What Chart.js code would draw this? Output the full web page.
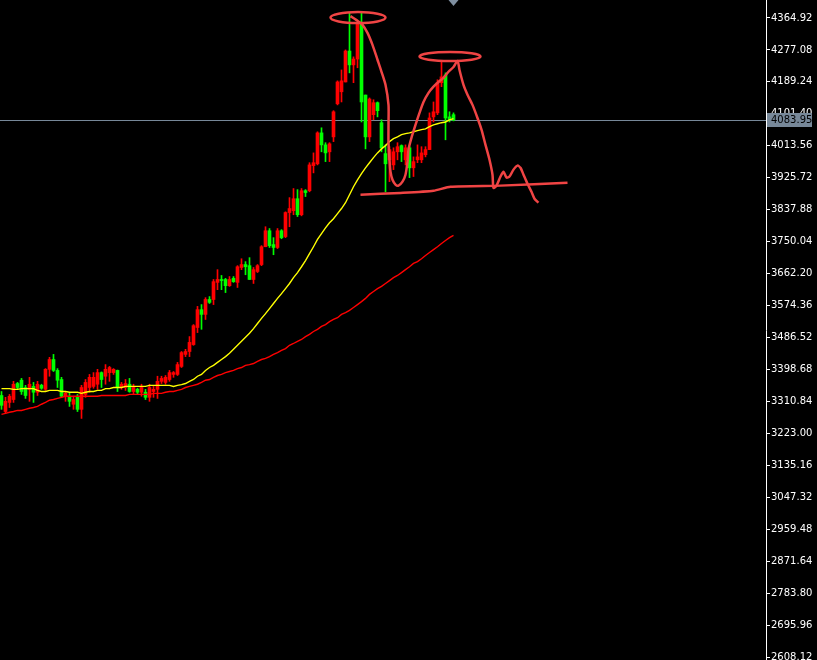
<!DOCTYPE html>
<html><head><meta charset="utf-8">
<script src="https://cdn.jsdelivr.net/npm/chart.js@4.4.1/dist/chart.umd.min.js"></script>
<style>html,body{margin:0;padding:0;background:#000;overflow:hidden}#wrap{position:relative;width:817px;height:660px}</style>
</head><body><div id="wrap"><canvas id="c"></canvas></div>
<script>
// ---- data ----
const opens = [3327,3283,3308,3316,3360,3369,3349,3344,3352,3336,
3355,3344,3399,3426,3396,3371,3325,3325,3303,3325,
3289,3330,3349,3352,3358,3390,3380,3390,3390,3396,
3349,3349,3358,3338,3344,3336,3336,3322,3338,3344,
3366,3363,3371,3385,3385,3407,3440,3448,3467,3514,
3563,3550,3591,3591,3638,3646,3646,3629,3649,3638,
3679,3687,3684,3646,3668,3687,3736,3780,3742,3734,
3780,3764,3830,3835,3868,3824,3890,3890,3959,3964,
4049,4016,3997,4038,4129,4162,4189,4274,4236,4252,
4348,4153,4038,4099,4132,4077,3992,3975,3961,3997,
4014,3975,4008,3953,3975,3975,3989,4003,4093,4104,
4187,4208,4093,4099];
const highs = [3338,3322,3330,3366,3363,3374,3355,3377,3363,3366,
3358,3401,3432,3440,3401,3377,3338,3336,3325,3330,
3355,3371,3385,3390,3399,3392,3412,3407,3401,3397,
3363,3371,3374,3358,3347,3358,3344,3358,3352,3380,
3380,3382,3396,3393,3418,3448,3454,3489,3522,3572,
3577,3596,3599,3646,3673,3657,3649,3654,3654,3684,
3703,3695,3706,3679,3687,3739,3791,3786,3761,3786,
3783,3832,3871,3896,3893,3896,3893,3967,3994,4052,
4063,4022,4022,4110,4192,4222,4277,4379,4258,4354,
4379,4153,4145,4140,4134,4085,4016,4011,4008,4022,
4016,4016,4011,3983,4016,4011,4011,4104,4134,4195,
4244,4214,4107,4104];
const lows = [3289,3278,3294,3308,3344,3330,3319,3311,3308,3327,
3344,3341,3380,3393,3349,3322,3311,3297,3289,3283,
3264,3322,3336,3347,3344,3349,3358,3366,3385,3338,
3344,3341,3336,3330,3330,3325,3316,3311,3322,3319,
3360,3358,3366,3377,3382,3404,3434,3434,3465,3500,
3509,3536,3580,3577,3618,3618,3610,3627,3638,3624,
3673,3659,3646,3635,3665,3684,3736,3734,3714,3731,
3758,3761,3791,3824,3819,3821,3874,3887,3939,3961,
3997,3970,3970,4025,4126,4134,4189,4214,4187,4228,
4079,4005,4025,4085,4093,3997,3887,3915,3948,3975,
3970,3961,3926,3929,3967,3967,3983,4003,4079,4099,
4176,4030,4079,4082];
const closes = [3300,3311,3325,3358,3349,3338,3327,3358,3336,3358,
3347,3399,3426,3396,3369,3325,3333,3311,3316,3289,
3349,3363,3377,3377,3390,3371,3399,3404,3399,3349,
3358,3360,3338,3349,3336,3349,3322,3349,3344,3366,
3374,3377,3390,3390,3412,3445,3448,3473,3519,3563,
3550,3591,3583,3640,3646,3643,3629,3646,3640,3681,
3687,3681,3646,3673,3684,3736,3780,3739,3734,3780,
3761,3830,3841,3868,3824,3890,3885,3961,3967,4049,
4016,3994,4019,4107,4189,4192,4274,4236,4252,4348,
4134,4038,4142,4132,4110,4008,3964,4003,3997,4011,
3997,4008,3953,3970,3983,3994,4003,4090,4107,4187,
4203,4090,4085,4083.95];
const maFast = [3346,3346,3346,3344,3344,3346,3346,3346,3346,3341,
3338,3338,3341,3341,3341,3338,3338,3336,3336,3336,
3333,3336,3338,3338,3341,3341,3346,3346,3349,3349,
3349,3352,3352,3352,3352,3352,3352,3355,3355,3355,
3355,3355,3355,3352,3355,3357,3360,3366,3371,3380,
3385,3396,3404,3410,3418,3426,3434,3443,3454,3465,
3476,3487,3498,3511,3525,3539,3552,3566,3580,3594,
3607,3621,3635,3651,3665,3681,3698,3717,3736,3756,
3772,3788,3802,3813,3827,3841,3857,3879,3901,3920,
3937,3953,3967,3981,3994,4005,4014,4025,4033,4038,
4044,4047,4049,4052,4055,4058,4060,4066,4071,4074,
4077,4079,4085,4088];
const maSlow = [3275,3278,3281,3283,3286,3286,3289,3292,3294,3297,
3303,3308,3314,3316,3319,3322,3325,3325,3325,3325,
3325,3325,3325,3325,3325,3327,3327,3327,3327,3327,
3327,3327,3330,3330,3330,3330,3330,3330,3333,3333,
3333,3336,3338,3338,3341,3344,3349,3352,3355,3358,
3363,3369,3371,3377,3382,3385,3390,3393,3396,3401,
3404,3410,3412,3415,3421,3426,3429,3434,3440,3445,
3451,3456,3465,3470,3476,3481,3489,3495,3503,3509,
3517,3522,3530,3536,3541,3550,3555,3561,3569,3577,
3585,3594,3605,3613,3621,3627,3635,3643,3651,3657,
3665,3673,3681,3690,3695,3703,3712,3720,3728,3736,
3745,3753,3761,3767];
const yTicks = [4364.92,4277.08,4189.24,4101.40,4013.56,3925.72,3837.88,3750.04,3662.20,3574.36,
3486.52,3398.68,3310.84,3223.00,3135.16,3047.32,2959.48,2871.64,2783.80,2695.96,2608.12];
const yMin = 2599.9, yMax = 4414.3;
// hand-drawn annotations (bar index, price)
const sketchX = [87.25,88.75,90.25,91.5,92.75,94,95,96,96.75,96.75,96.75,97,97.25,97.75,98.5,99.25,100.25,101,101.5,101.75,102.5,103.5,104.5,105.5,106.75,108,109.25,110.5,111.75,113,114,114.5,115.5,116.5,117.75,119,120,121,122,122.75,123,123.75,124.75,125.5,126.25,127,128,129,129.75,130.5,131.5,132.5,133.25,134.25];
const sketchY = [4370,4359,4346,4324,4291,4250,4217,4181,4126,4071,4022,3975,3942,3920,3907,3904,3915,3934,3970,4003,4036,4071,4104,4134,4159,4176,4189,4200,4217,4230,4247,4222,4181,4154,4126,4090,4058,4016,3975,3934,3898,3904,3929,3942,3926,3929,3948,3959,3953,3934,3909,3887,3868,3857];
const neckX = [89.75,99.75,108,112.25,124.75,141.5];
const neckY = [3879,3884,3890,3901,3904,3912];
const ringCX = [89.125,112.125];
const ringCY = [4366,4259];
const ringRX = [6.875,7.625];
const ringRY = [15,12.4];

// ---- styles ----
const UP='#ff0000', DOWN='#00ff00', SKETCH='rgb(240,68,68)', PLINE='#778899';
const lastPrice = closes[closes.length-1];
const idx = opens.map((_,i)=>i);
const candleColors = idx.map(i => closes[i] >= opens[i] ? UP : DOWN);

const mtPlugin = {
  id:'mt',
  beforeDatasetsDraw(chart){
    const {ctx, chartArea:a, scales:{y}} = chart;
    const py = Math.round(y.getPixelForValue(lastPrice)) + 0.5;
    ctx.save(); ctx.strokeStyle=PLINE; ctx.lineWidth=1;
    ctx.beginPath(); ctx.moveTo(a.left,py); ctx.lineTo(a.right,py); ctx.stroke(); ctx.restore();
  },
  afterDatasetsDraw(chart){
    const {ctx, scales:{x,y}} = chart;
    ctx.save(); ctx.strokeStyle=SKETCH; ctx.lineWidth=2.5;
    ringCX.forEach((cx,k)=>{
      const px=x.getPixelForValue(cx), py=y.getPixelForValue(ringCY[k]);
      const rx=Math.abs(x.getPixelForValue(cx+ringRX[k])-px);
      const ry=Math.abs(y.getPixelForValue(ringCY[k]+ringRY[k])-py);
      ctx.beginPath(); ctx.ellipse(px,py,rx,ry,0,0,Math.PI*2); ctx.stroke();
    });
    ctx.restore();
  },
  afterDraw(chart){
    const {ctx, chartArea:a, scales:{x,y}} = chart;
    const py = Math.round(y.getPixelForValue(lastPrice));
    ctx.save();
    ctx.fillStyle=PLINE; ctx.fillRect(a.right+1, py-7, 45, 14);
    ctx.fillStyle='#000'; ctx.font='10px "DejaVu Sans"'; ctx.textBaseline='middle'; ctx.textAlign='left';
    ctx.fillText(lastPrice.toFixed(2), a.right+5, py+0.5);
    // chart shift marker
    const sx = x.getPixelForValue(idx[idx.length-1]);
    ctx.fillStyle='#7f8fa0';
    ctx.beginPath(); ctx.moveTo(sx-5,a.top); ctx.lineTo(sx+5,a.top); ctx.lineTo(sx,a.top+6); ctx.closePath(); ctx.fill();
    ctx.restore();
  }
};

new Chart(document.getElementById('c'), {
  type:'bar',
  data:{ datasets:[
    { type:'line', label:'sketch', data: sketchX.map((v,i)=>({x:v,y:sketchY[i]})), borderColor:SKETCH, borderWidth:2.5, pointRadius:0, tension:0.25, order:1 },
    { type:'line', label:'neck', data: neckX.map((v,i)=>({x:v,y:neckY[i]})), borderColor:SKETCH, borderWidth:2.5, pointRadius:0, tension:0.2, order:1 },
    { type:'line', label:'MA fast', data: idx.map(i=>({x:i,y:maFast[i]})), borderColor:'#ffff00', borderWidth:1.4, pointRadius:0, tension:0, order:3 },
    { type:'line', label:'MA slow', data: idx.map(i=>({x:i,y:maSlow[i]})), borderColor:'#ff0000', borderWidth:1.4, pointRadius:0, tension:0, order:4 },
    { label:'body', data: idx.map(i=>({x:i,y:[opens[i],closes[i]]})), backgroundColor:candleColors, borderWidth:0, barThickness:3, minBarLength:1, grouped:false, order:5 },
    { label:'wick', data: idx.map(i=>({x:i,y:[lows[i],highs[i]]})), backgroundColor:candleColors, borderWidth:0, barThickness:1, minBarLength:1, grouped:false, order:6 }
  ]},
  options:{
    responsive:true, maintainAspectRatio:false, animation:false,
    layout:{ padding:0 },
    plugins:{ legend:{display:false}, tooltip:{enabled:false} },
    scales:{
      x:{ type:'linear', min:-0.375, max:191.125, display:false, offset:false },
      y:{ type:'linear', position:'right', min:yMin, max:yMax, beginAtZero:false,
          afterBuildTicks: s => { s.ticks = yTicks.map(v=>({value:v})); },
          afterFit: s => { s.width = 51; s.paddingTop = 0; s.paddingBottom = 0; },
          ticks:{ color:'#ffffff', font:{family:'DejaVu Sans', size:10}, padding:1, autoSkip:false, callback: v => Number(v).toFixed(2) },
          grid:{ drawOnChartArea:false, drawTicks:true, tickLength:4, color:'#ffffff' },
          border:{ display:true, color:'#ffffff', width:1 } }
    }
  },
  plugins:[mtPlugin]
});
</script></body></html>
